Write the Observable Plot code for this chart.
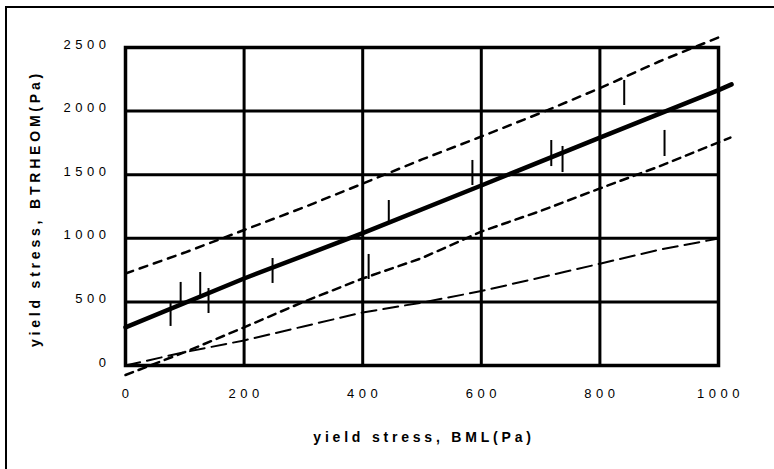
<!DOCTYPE html>
<html>
<head>
<meta charset="utf-8">
<script src="https://cdn.jsdelivr.net/npm/d3@7"></script>
<script src="https://cdn.jsdelivr.net/npm/@observablehq/plot@0.6"></script>
<style>
  html, body { margin: 0; padding: 0; background: #fff; }
  #wrap { position: relative; width: 774px; height: 469px; overflow: hidden; }
  #border { position: absolute; left: 5px; top: 6px; width: 800px; height: 500px;
            border-left: 2px solid #000; border-top: 2px solid #000; }
  #chart { position: absolute; left: 0; top: 0; }
  g[aria-label="x-axis tick label"] text,
  g[aria-label="y-axis tick label"] text { letter-spacing: 4.5px; }
  g[aria-label="text"] text { letter-spacing: 3.8px; }
</style>
</head>
<body>
<div id="wrap"><div id="border"></div><div id="chart"></div></div>
<script>
// Tick values
const xTicks = [0, 200, 400, 600, 800, 1000];
const yTicks = [0, 500, 1000, 1500, 2000, 2500];

// Regression line (solid)
const regX = [0, 200, 400, 600, 800, 1000, 1022];
const regY = [300, 684, 1040, 1415, 1792, 2165, 2210];

// Upper dashed band
const upX = [0, 100, 200, 300, 400, 500, 600, 700, 800, 900, 1008];
const upY = [723, 888, 1065, 1242, 1430, 1620, 1800, 1985, 2180, 2390, 2594];

// Lower dashed band
const loX = [0, 100, 200, 300, 400, 500, 600, 700, 800, 900, 1020];
const loY = [-75, 105, 300, 500, 684, 845, 1053, 1215, 1392, 1565, 1792];

// Equality line (long dashes)
const eqX = [0, 100, 200, 300, 400, 500, 600, 700, 800, 900, 1000];
const eqY = [0, 105, 197, 307, 417, 495, 585, 692, 800, 910, 998];

// Vertical bars (measurements)
const barX  = [76, 93, 126, 140, 248, 410, 444, 585, 718, 737, 841, 909];
const barLo = [307, 472, 535, 409, 645, 676, 1116, 1415, 1564, 1517, 2044, 1643];
const barHi = [487, 653, 731, 605, 841, 873, 1297, 1612, 1769, 1722, 2241, 1848];

const xTitle = "yield stress, BML(Pa)";
const yTitle = "yield stress, BTRHEOM(Pa)";

const toPts = (xs, ys) => xs.map((x, i) => ({x, y: ys[i]}));
const bars = barX.map((x, i) => ({x, lo: barLo[i], hi: barHi[i]}));
const fmt = d => String(d);

const chart = Plot.plot({
  width: 774,
  height: 469,
  marginLeft: 125,
  marginRight: 56,
  marginTop: 47,
  marginBottom: 104,
  style: { fontFamily: "'Liberation Sans', Arial, sans-serif", background: "transparent", overflow: "visible" },
  x: { domain: [0, 1000] },
  y: { domain: [0, 2500] },
  marks: [
    Plot.gridX(xTicks, { stroke: "#000", strokeOpacity: 1, strokeWidth: 3 }),
    Plot.gridY(yTicks, { stroke: "#000", strokeOpacity: 1, strokeWidth: 3 }),
    Plot.frame({ stroke: "#000", strokeWidth: 3.5 }),
    Plot.axisX(xTicks, { tickSize: 0, tickPadding: 23, fontSize: 13, fill: "#000", label: null, tickFormat: fmt, dx: 2 }),
    Plot.axisY(yTicks, { tickSize: 0, tickPadding: 15, fontSize: 13, fill: "#000", label: null, dy: -3, tickFormat: fmt }),
    Plot.line(toPts(eqX, eqY), { x: "x", y: "y", stroke: "#000", strokeWidth: 2, strokeDasharray: "15,7" }),
    Plot.line(toPts(loX, loY), { x: "x", y: "y", stroke: "#000", strokeWidth: 2.5, strokeDasharray: "8,6" }),
    Plot.line(toPts(upX, upY), { x: "x", y: "y", stroke: "#000", strokeWidth: 2.5, strokeDasharray: "8,7" }),
    Plot.line(toPts(regX, regY), { x: "x", y: "y", stroke: "#000", strokeWidth: 4.5 }),
    Plot.ruleX(bars, { x: "x", y1: "lo", y2: "hi", stroke: "#000", strokeWidth: 2 }),
    Plot.text([xTitle], { frameAnchor: "bottom", textAnchor: "middle", dy: 76, dx: 2, fontSize: 14, fontWeight: "bold", fill: "#000" }),
    Plot.text([yTitle], { frameAnchor: "left", textAnchor: "middle", dx: -90, dy: 2, rotate: -90, fontSize: 14, fontWeight: "bold", fill: "#000" })
  ]
});
document.getElementById("chart").appendChild(chart);
</script>
</body>
</html>
